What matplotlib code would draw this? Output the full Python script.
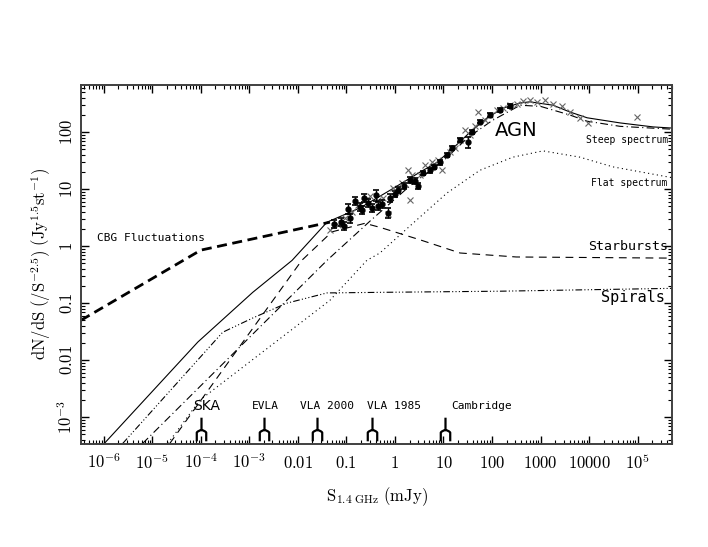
import numpy as np
import matplotlib
matplotlib.use("Agg")
import matplotlib.pyplot as plt
from matplotlib.path import Path
from matplotlib.ticker import FixedLocator, LogLocator, NullFormatter

plt.rcParams["mathtext.fontset"] = "cm"

# ---- model curves as (log10 S [mJy], log10 dN/dS) ----
total_logS = [-6.0, -4.06, -2.93, -2.12, -1.40, -0.72, -0.10, 0.52, 0.87, 1.20,
              1.55, 1.90, 2.23, 2.58, 2.78, 3.26, 3.61, 3.96, 4.64, 5.32, 5.71]
total_logN = [-3.47, -1.68, -0.81, -0.25, 0.42, 0.67, 0.98, 1.30, 1.47, 1.72,
              2.00, 2.25, 2.42, 2.51, 2.53, 2.47, 2.35, 2.25, 2.16, 2.09, 2.07]

steep_logS = [-5.20, -1.40, -0.50, 0.30, 1.00, 1.50, 2.00, 2.58, 3.00, 3.60,
              3.96, 4.64, 5.71]
steep_logN = [-3.46, -0.25, 0.45, 1.05, 1.50, 1.90, 2.20, 2.47, 2.45, 2.30,
              2.19, 2.10, 2.05]

flat_logS = [-4.68, -4.02, -1.34, -0.58, -0.31, 0.37, 1.07, 1.75, 2.43, 3.05,
             3.81, 4.49, 5.20, 5.71]
flat_logN = [-3.46, -2.70, -0.95, -0.25, -0.12, 0.40, 0.93, 1.33, 1.56, 1.67,
             1.56, 1.39, 1.28, 1.20]

starburst_logS = [-4.64, -1.92, -1.30, -0.62, -0.31, 0.52, 1.34, 2.50, 5.71]
starburst_logN = [-3.46, -0.25, 0.25, 0.40, 0.33, 0.11, -0.12, -0.19, -0.21]

spiral_logS = [-5.61, -3.55, -2.93, -2.23, -1.40, -0.31, 2.16, 5.71]
spiral_logN = [-3.46, -1.51, -1.26, -1.00, -0.82, -0.81, -0.79, -0.74]

cbg_logS = [-6.47, -4.00, -1.34]
cbg_logN = [-1.30, -0.07, 0.42]

# ---- measured counts ----
pts_logS = [-1.26, -1.11, -1.05, -0.93, -0.97, -0.82, -0.72, -0.64, -0.56, -0.47,
            -0.39, -0.35, -0.27, -0.14, -0.10, 0.00, 0.06, 0.19, 0.31, 0.41,
            0.47, 0.58, 0.72, 0.80, 0.93, 1.07, 1.18, 1.34, 1.51, 1.59,
            1.75, 1.96, 2.16, 2.37, -0.68]
pts_logN = [0.39, 0.42, 0.35, 0.49, 0.65, 0.79, 0.68, 0.84, 0.75, 0.67,
            0.89, 0.70, 0.74, 0.58, 0.84, 0.91, 0.98, 1.05, 1.16, 1.14,
            1.05, 1.28, 1.33, 1.39, 1.47, 1.60, 1.72, 1.86, 1.82, 2.00,
            2.18, 2.30, 2.39, 2.46, 0.63]
pts_err = [0.07, 0.07, 0.07, 0.08, 0.08, 0.07, 0.07, 0.07, 0.07, 0.07,
           0.10, 0.07, 0.07, 0.09, 0.07, 0.05, 0.05, 0.05, 0.05, 0.05,
           0.05, 0.04, 0.04, 0.04, 0.04, 0.04, 0.04, 0.04, 0.10, 0.03,
           0.03, 0.03, 0.03, 0.03, 0.07]

cross_logS = [-1.34, -1.18, -1.03, -0.89, -0.76, -0.62, -0.52, -0.35, -0.25, -0.14,
              -0.04, 0.14, 0.27, 0.31, 0.35, 0.52, 0.62, 0.76, 0.89, 0.97,
              1.13, 1.24, 1.34, 1.44, 1.55, 1.65, 1.71, 1.86, 1.96, 2.10,
              2.23, 2.37, 2.52, 2.64, 2.78, 2.93, 3.09, 3.26, 3.44, 3.61,
              3.81, 3.98, 4.99]
cross_logN = [0.28, 0.37, 0.49, 0.60, 0.72, 0.81, 0.88, 0.81, 0.84, 0.56,
              1.02, 1.11, 1.33, 0.81, 1.25, 1.25, 1.42, 1.47, 1.51, 1.33,
              1.65, 1.72, 1.86, 2.04, 1.95, 2.11, 2.35, 2.21, 2.30, 2.39,
              2.42, 2.47, 2.49, 2.54, 2.56, 2.53, 2.56, 2.49, 2.46, 2.35,
              2.25, 2.16, 2.26]

# ---- survey limits ----
survey_names = ["SKA", "EVLA", "VLA 2000", "VLA 1985", "Cambridge"]
survey_S = [1e-4, 2e-3, 0.025, 0.34, 11.0]

x_ticks = [1e-6, 1e-5, 1e-4, 1e-3, 1e-2, 1e-1, 1, 10, 100, 1000, 10000, 1e5]
x_ticklabels = [r"$10^{-6}$", r"$10^{-5}$", r"$10^{-4}$", r"$10^{-3}$", r"$0.01$",
                r"$0.1$", r"$1$", r"$10$", r"$100$", r"$1000$", r"$10000$",
                r"$10^{5}$"]
y_ticks = [1e-3, 1e-2, 0.1, 1, 10, 100]
y_ticklabels = [r"$10^{-3}$", r"$0.01$", r"$0.1$", r"$1$", r"$10$", r"$100$"]


def p10(a):
    return 10.0 ** np.asarray(a)


fig = plt.figure(figsize=(7.08, 5.47), dpi=100)
ax = fig.add_axes([0.1144, 0.1883, 0.8347, 0.6563])
ax.set_xscale("log")
ax.set_yscale("log")
ax.set_xlim(3.4e-7, 5.1e5)
ax.set_ylim(3.4e-4, 668)

lw = 0.8
ax.plot(p10(total_logS), p10(total_logN), color="k", lw=lw, ls="-")
ax.plot(p10(steep_logS), p10(steep_logN), color="k", lw=lw, ls=(0, (7, 3, 1, 3)))
ax.plot(p10(flat_logS), p10(flat_logN), color="k", lw=lw, ls=(0, (1, 3)))
ax.plot(p10(starburst_logS), p10(starburst_logN), color="k", lw=lw, ls=(0, (7, 5)))
ax.plot(p10(spiral_logS), p10(spiral_logN), color="k", lw=lw,
        ls=(0, (6, 2, 1, 2, 1, 2, 1, 2)))
ax.plot(p10(cbg_logS), p10(cbg_logN), color="k", lw=2.0, ls=(0, (3.6, 2.0)))

# data
ax.plot(p10(cross_logS), p10(cross_logN), ls="none", marker="x", ms=5,
        mew=0.8, color="0.4")
N = p10(pts_logN)
err = np.asarray(pts_err)
ax.errorbar(p10(pts_logS), N, yerr=[N - N * 10 ** -err, N * 10 ** err - N],
            fmt="o", ms=3.5, color="k", elinewidth=1.0, capsize=2.5, capthick=1.2)

# survey limit markers: stem with an arch below
fork = Path([(0, 1.0), (0, 0.0), (-0.4, -1.0), (-0.4, -0.25), (0, 0.15),
             (0.4, -0.25), (0.4, -1.0)],
            [Path.MOVETO, Path.LINETO, Path.MOVETO, Path.LINETO, Path.CURVE3,
             Path.CURVE3, Path.LINETO])
label_dx = [4, 1, 7, 16, 26]
for name, s, dx in zip(survey_names, survey_S, label_dx):
    ax.plot([s], [6.2e-4], marker=fork, ms=17, mew=1.6, color="k",
            fillstyle="none", ls="none")
    fam = "DejaVu Sans" if name == "SKA" else "DejaVu Sans Mono"
    fs = 10 if name == "SKA" else 8
    ax.annotate(name, (s, 1.6e-3), xytext=(dx, 0), textcoords="offset points",
                ha="center", va="center", fontsize=fs, family=fam)

# curve labels
mono = "DejaVu Sans Mono"
ax.text(0.027, 0.574, "CBG Fluctuations", transform=ax.transAxes, fontsize=8,
        family=mono, va="center", ha="left")
ax.text(0.70, 0.872, "AGN", transform=ax.transAxes, fontsize=14,
        family="DejaVu Sans", va="center", ha="left")
ax.text(0.993, 0.847, "Steep spectrum", transform=ax.transAxes, fontsize=7,
        family=mono, va="center", ha="right")
ax.text(0.993, 0.727, "Flat spectrum", transform=ax.transAxes, fontsize=7,
        family=mono, va="center", ha="right")
ax.text(0.993, 0.549, "Starbursts", transform=ax.transAxes, fontsize=9.5,
        family=mono, va="center", ha="right")
ax.text(0.988, 0.407, "Spirals", transform=ax.transAxes, fontsize=11,
        family=mono, va="center", ha="right")

# axes styling
ax.xaxis.set_major_locator(FixedLocator(x_ticks))
ax.set_xticklabels(x_ticklabels)
ax.yaxis.set_major_locator(FixedLocator(y_ticks))
ax.set_yticklabels(y_ticklabels, rotation=90, va="center")
ax.xaxis.set_minor_locator(LogLocator(base=10, subs=np.arange(2, 10), numticks=30))
ax.yaxis.set_minor_locator(LogLocator(base=10, subs=np.arange(2, 10), numticks=30))
ax.xaxis.set_minor_formatter(NullFormatter())
ax.yaxis.set_minor_formatter(NullFormatter())
ax.tick_params(which="both", direction="in", top=True, right=True,
               labelsize=12, color="k")
ax.tick_params(axis="x", which="major", pad=7)
ax.tick_params(which="major", length=6, width=1.0)
ax.tick_params(which="minor", length=3, width=0.8)
for sp in ax.spines.values():
    sp.set_linewidth(1.4)
    sp.set_color("0.25")

ax.set_xlabel(r"$\mathrm{S_{1.4\ GHz}\ (mJy)}$", fontsize=12, labelpad=9)
ax.set_ylabel(r"$\mathrm{dN/dS\ (/S^{-2.5})\ (Jy^{1.5}st^{-1})}$", fontsize=12,
              labelpad=3)

fig.savefig("out.png", dpi=100)
